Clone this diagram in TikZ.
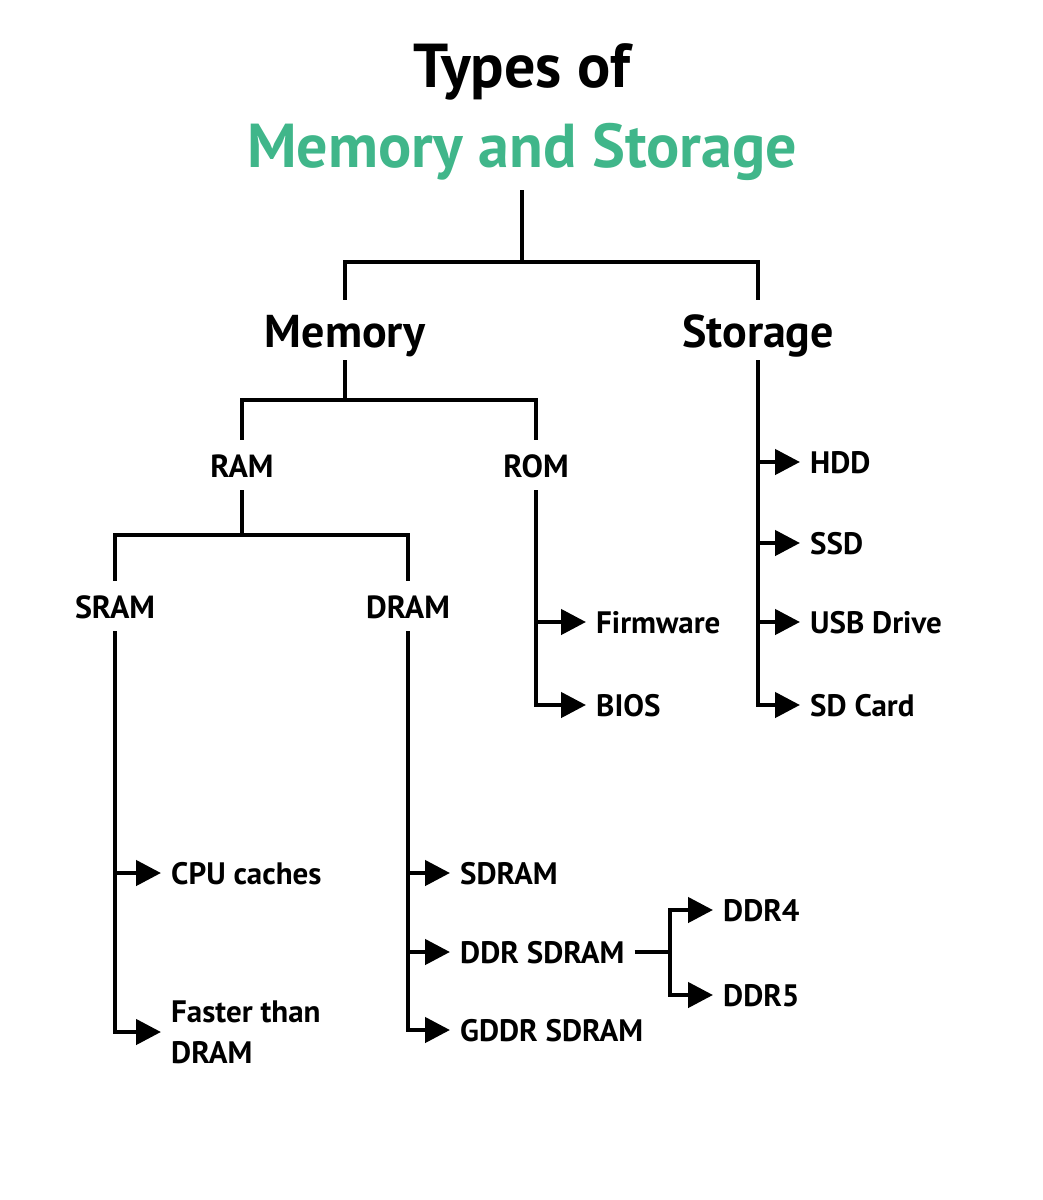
\documentclass[tikz,border=0pt]{standalone}
\usepackage{fontspec}
\setmainfont{PT Sans}
\usetikzlibrary{arrows.meta}
\definecolor{titlegreen}{RGB}{64,182,138}

\begin{document}
\begin{tikzpicture}[x=1pt,y=-1pt,
    tree/.style={line width=4.5pt},
    arr/.style={line width=4.5pt,-{Triangle[length=25pt,width=25pt]}},
    title/.style={font=\bfseries\fontsize{62}{70}\selectfont,inner sep=0pt},
    bighead/.style={font=\bfseries\fontsize{46}{56}\selectfont,anchor=base,text height=34pt,text depth=0pt,inner ysep=13pt},
    head/.style={font=\bfseries\fontsize{32}{40}\selectfont,anchor=base,text height=24pt,text depth=0pt,inner ysep=13pt},
    item/.style={font=\bfseries\fontsize{31}{41}\selectfont,anchor=west,text height=22pt,text depth=0pt,inner xsep=10pt,inner ysep=0pt},
    note/.style={font=\bfseries\fontsize{31}{41}\selectfont,anchor=west,align=left,inner xsep=10pt,inner ysep=0pt}]

  % page size
  \useasboundingbox (0,0) rectangle (1042,1200);

  % title
  \node[title] (types) at (522,87) [anchor=base] {Types of};
  \node[title,text=titlegreen,text depth=0pt,inner ysep=0pt] (mas) at (522,167) [anchor=base] {Memory and Storage};
  \coordinate (masb) at (522,190);

  % first level
  \node[bighead] (memory) at (345,347) {Memory};
  \node[bighead] (storage) at (758,347) {Storage};

  % second level
  \node[head] (ram) at (242,477) {RAM};
  \node[head] (rom) at (536,477) {ROM};

  % third level
  \node[head] (sram) at (115,618) {SRAM};
  \node[head] (dram) at (408,618) {DRAM};

  % storage items
  \node[item] (hdd) at (800,462) {HDD};
  \node[item] (ssd) at (800,543) {SSD};
  \node[item] (usb) at (800,622) {USB Drive};
  \node[item] (sdcard) at (800,705) {SD Card};

  % rom items
  \node[item] (firmware) at (586,622) {Firmware};
  \node[item] (bios) at (586,705) {BIOS};

  % sram items
  \node[item] (cpu) at (161,873) {CPU caches};
  \node[note] (fast) at (161,1032) {Faster than\\DRAM};

  % dram items
  \node[item] (sdram) at (450,873) {SDRAM};
  \node[item] (ddr) at (450,952) {DDR SDRAM};
  \node[item] (gddr) at (450,1030) {GDDR SDRAM};
  \node[item] (ddrfour) at (713,910) {DDR4};
  \node[item] (ddrfive) at (713,995) {DDR5};

  % junctions
  \coordinate (topj) at (522,262);
  \coordinate (memj) at (345,400);
  \coordinate (ramj) at (242,535);
  \coordinate (ddrj) at (670,952);

  % tree lines
  \draw[tree] (masb) -- (topj);
  \draw[tree] (topj) -| (memory.north);
  \draw[tree] (topj) -| (storage.north);
  \draw[tree] (memory.south) -- (memj);
  \draw[tree] (memj) -| (ram.north);
  \draw[tree] (memj) -| (rom.north);
  \draw[tree] (ram.south) -- (ramj);
  \draw[tree] (ramj) -| (sram.north);
  \draw[tree] (ramj) -| (dram.north);

  % storage arrows
  \draw[arr] (storage.south) |- (sdcard.west);
  \draw[arr] (storage.south |- hdd.west) -- (hdd.west);
  \draw[arr] (storage.south |- ssd.west) -- (ssd.west);
  \draw[arr] (storage.south |- usb.west) -- (usb.west);

  % rom arrows
  \draw[arr] (rom.south) |- (bios.west);
  \draw[arr] (rom.south |- firmware.west) -- (firmware.west);

  % sram arrows
  \draw[arr] (sram.south) |- (fast.west);
  \draw[arr] (sram.south |- cpu.west) -- (cpu.west);

  % dram arrows
  \draw[arr] (dram.south) |- (gddr.west);
  \draw[arr] (dram.south |- sdram.west) -- (sdram.west);
  \draw[arr] (dram.south |- ddr.west) -- (ddr.west);

  % ddr arrows
  \draw[tree] (ddr.east) -- (ddrj);
  \draw[arr] (ddrj) |- (ddrfour.west);
  \draw[arr] (ddrj) |- (ddrfive.west);
\end{tikzpicture}
\end{document}
